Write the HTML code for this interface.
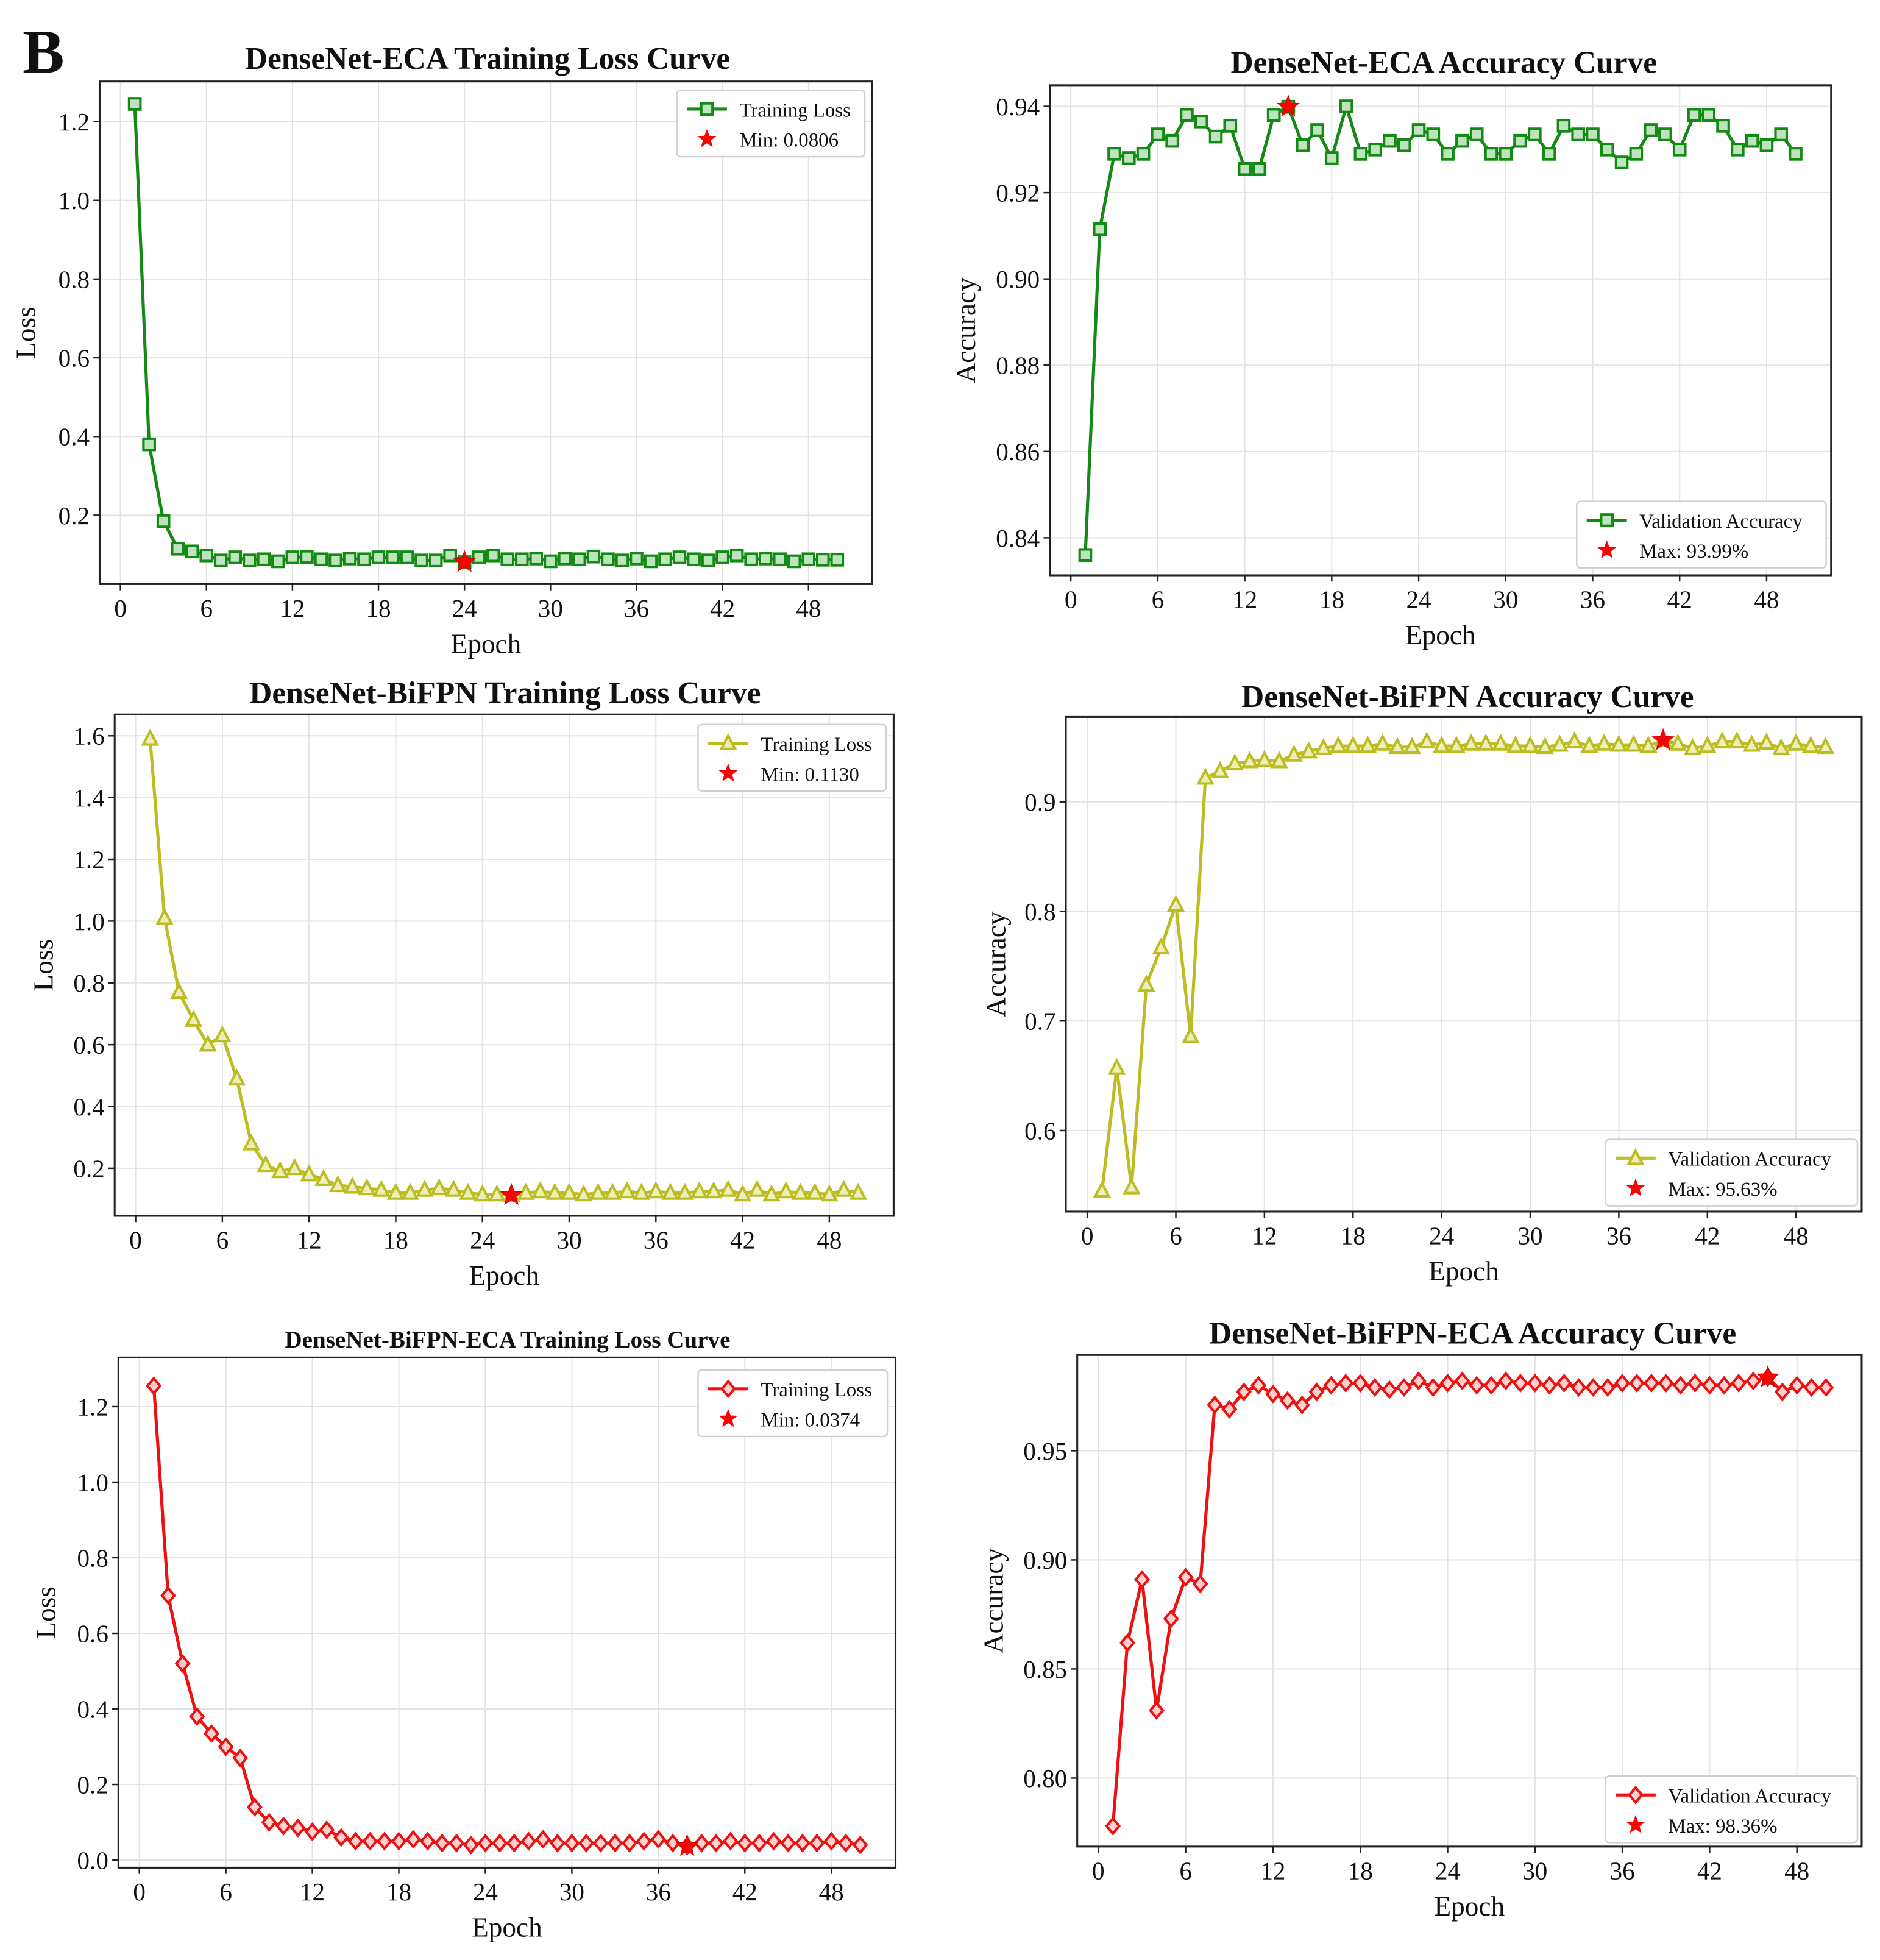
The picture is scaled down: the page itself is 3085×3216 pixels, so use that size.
<!DOCTYPE html>
<html><head><meta charset="utf-8"><style>
html,body{margin:0;padding:0;background:#fff;}
svg{display:block;}
text{font-family:"Liberation Serif",serif;fill:#111;}
</style></head>
<body>
<svg id="fig" xmlns="http://www.w3.org/2000/svg" width="3085" height="3216" viewBox="0 0 1500 1563.7">
<text x="18" y="58" font-size="50" font-weight="bold">B</text>
</svg>
<script>
// ---- data arrays ----
const epochs = Array.from({length:50},(_,i)=>i+1);
const xTicks = [0,6,12,18,24,30,36,42,48];
const ecaLoss = [1.245,0.38,0.185,0.115,0.108,0.098,0.085,0.093,0.085,0.088,0.083,0.093,0.094,0.088,0.085,0.09,0.088,0.093,0.093,0.093,0.085,0.085,0.098,0.0806,0.093,0.098,0.088,0.088,0.09,0.083,0.09,0.088,0.095,0.088,0.085,0.09,0.083,0.088,0.093,0.088,0.085,0.093,0.098,0.088,0.09,0.088,0.083,0.088,0.087,0.087];
const ecaLossBest = 24;
const ecaLossTicks = [0.2,0.4,0.6,0.8,1.0,1.2];
const ecaAcc = [0.836,0.9115,0.929,0.928,0.929,0.9335,0.932,0.938,0.9365,0.933,0.9355,0.9255,0.9255,0.938,0.9399,0.931,0.9345,0.928,0.94,0.929,0.930,0.932,0.931,0.9345,0.9335,0.929,0.932,0.9335,0.929,0.929,0.932,0.9335,0.929,0.9355,0.9335,0.9335,0.930,0.927,0.929,0.9345,0.9335,0.930,0.938,0.938,0.9355,0.930,0.932,0.931,0.9335,0.929];
const ecaAccBest = 15;
const ecaAccTicks = [0.84,0.86,0.88,0.90,0.92,0.94];
const bifLoss = [1.59,1.01,0.77,0.68,0.60,0.63,0.49,0.28,0.21,0.19,0.20,0.18,0.165,0.145,0.14,0.135,0.13,0.12,0.12,0.13,0.135,0.13,0.12,0.115,0.115,0.113,0.12,0.125,0.12,0.12,0.115,0.12,0.12,0.125,0.12,0.125,0.12,0.12,0.125,0.125,0.13,0.115,0.13,0.115,0.125,0.12,0.12,0.115,0.13,0.12];
const bifLossBest = 26;
const bifLossTicks = [0.2,0.4,0.6,0.8,1.0,1.2,1.4,1.6];
const bifAcc = [0.545,0.657,0.548,0.733,0.767,0.806,0.686,0.922,0.928,0.935,0.937,0.938,0.937,0.943,0.946,0.949,0.951,0.951,0.951,0.953,0.95,0.95,0.955,0.951,0.951,0.953,0.953,0.953,0.951,0.951,0.95,0.952,0.955,0.951,0.953,0.952,0.952,0.951,0.9563,0.953,0.949,0.951,0.955,0.955,0.952,0.954,0.949,0.953,0.951,0.95];
const bifAccBest = 39;
const bifAccTicks = [0.6,0.7,0.8,0.9];
const bothLoss = [1.255,0.70,0.52,0.38,0.335,0.30,0.27,0.14,0.10,0.09,0.085,0.075,0.08,0.06,0.05,0.05,0.05,0.05,0.055,0.05,0.045,0.045,0.04,0.045,0.045,0.045,0.05,0.055,0.045,0.045,0.045,0.045,0.045,0.045,0.05,0.055,0.045,0.0374,0.045,0.045,0.05,0.045,0.045,0.05,0.045,0.045,0.045,0.05,0.045,0.04];
const bothLossBest = 38;
const bothLossTicks = [0.0,0.2,0.4,0.6,0.8,1.0,1.2];
const bothAcc = [0.778,0.862,0.891,0.831,0.873,0.892,0.889,0.971,0.969,0.977,0.980,0.976,0.973,0.971,0.977,0.980,0.981,0.981,0.979,0.978,0.979,0.982,0.979,0.981,0.982,0.980,0.980,0.982,0.981,0.981,0.980,0.981,0.979,0.979,0.979,0.981,0.981,0.981,0.981,0.980,0.981,0.980,0.980,0.981,0.982,0.9836,0.977,0.980,0.979,0.979];
const bothAccBest = 46;
const bothAccTicks = [0.80,0.85,0.90,0.95];

const NS="http://www.w3.org/2000/svg";
const svg=document.getElementById('fig');
function mk(tag,attrs,parent){const e=document.createElementNS(NS,tag);for(const k in attrs)e.setAttribute(k,attrs[k]);(parent||svg).appendChild(e);return e;}
function starPts(cx,cy,r){let p=[];for(let i=0;i<10;i++){const a=-Math.PI/2+i*Math.PI/5;const rr=i%2?r*0.42:r;p.push((cx+rr*Math.cos(a)).toFixed(2)+','+(cy+rr*Math.sin(a)).toFixed(2));}return p.join(' ');}
function marker(g,type,x,y,color){
  let m;
  if(type==='square') m=mk('rect',{x:x-4.5,y:y-4.5,width:9,height:9,fill:'#bfe3bf',stroke:color,'stroke-width':2},g);
  else if(type==='tri') m=mk('polygon',{points:`${x},${y-6} ${x-5.5},${y+4.5} ${x+5.5},${y+4.5}`,fill:'#eeeebb',stroke:color,'stroke-width':2},g);
  else m=mk('polygon',{points:`${x},${y-6} ${x+5},${y} ${x},${y+6} ${x-5},${y}`,fill:'#ffd0d0',stroke:color,'stroke-width':2},g);
  return m;
}

function chart(o){
  const g=mk('g',{});
  
  
  const xmin=-1.45,xmax=52.45;
  const X=v=>o.L+(v-xmin)/(xmax-xmin)*(o.R-o.L);
  const Y=v=>o.B-(v-o.ymin)/(o.ymax-o.ymin)*(o.B-o.T);
  o.xticks.forEach(t=>{const l=mk('line',{x1:X(t),x2:X(t),y1:o.T,y2:o.B,stroke:'#e3e3e3','stroke-width':1},g);
    });
  o.yticks.forEach(t=>{const l=mk('line',{x1:o.L,x2:o.R,y1:Y(t),y2:Y(t),stroke:'#e3e3e3','stroke-width':1},g);
    });
  const pts=o.data.map((v,i)=>X(epochs[i]).toFixed(2)+','+Y(v).toFixed(2)).join(' ');
  const pl=mk('polyline',{points:pts,fill:'none',stroke:o.color,'stroke-width':2.5,'stroke-linejoin':'round'},g);
  
  
  o.data.forEach((v,i)=>{const m=marker(g,o.marker,X(epochs[i]),Y(v),o.color);
    
    });
  const bi=o.best-1;
  const st=mk('polygon',{points:starPts(X(epochs[bi]),Y(o.data[bi]),9),fill:'#ff0000',stroke:'#cc0000','stroke-width':0.5},g);
  
  
  const fr=mk('rect',{x:o.L,y:o.T,width:o.R-o.L,height:o.B-o.T,fill:'none',stroke:'#222','stroke-width':1.5},g);
  
  
  o.xticks.forEach(t=>{mk('line',{x1:X(t),x2:X(t),y1:o.B,y2:o.B+5,stroke:'#222','stroke-width':1.2},g);
    const tx=mk('text',{x:X(t),y:o.B+26,'font-size':20,'text-anchor':'middle'},g);tx.textContent=t;
    });
  o.yticks.forEach(t=>{mk('line',{x1:o.L-5,x2:o.L,y1:Y(t),y2:Y(t),stroke:'#222','stroke-width':1.2},g);
    const tx=mk('text',{x:o.L-8,y:Y(t)+7,'font-size':20,'text-anchor':'end'},g);tx.textContent=t.toFixed(o.yd);
    });
  const xl=mk('text',{x:(o.L+o.R)/2,y:o.B+55,'font-size':22,'text-anchor':'middle'},g);xl.textContent='Epoch';
  
  const yx=o.ylx,yy=(o.T+o.B)/2;
  const yl=mk('text',{x:yx,y:yy,'font-size':22,'text-anchor':'middle',transform:`rotate(-90 ${yx} ${yy})`},g);yl.textContent=o.ylabel;
  
  const ti=mk('text',{x:o.tx,y:o.ty,'font-size':o.tfs||25,'font-weight':'bold','text-anchor':'middle'},g);ti.textContent=o.title;
  
  const lg=mk('g',{},g);
  
  
  const [lx,ly,lw]=o.leg;
  mk('rect',{x:lx,y:ly,width:lw,height:53,rx:3,fill:'#fff',stroke:'#d0d0d0','stroke-width':1.2},lg);
  mk('line',{x1:lx+8,x2:lx+40,y1:ly+15,y2:ly+15,stroke:o.color,'stroke-width':2.5},lg);
  marker(lg,o.marker,lx+24,ly+15,o.color);
  const t1=mk('text',{x:lx+50,y:ly+21,'font-size':16},lg);t1.textContent=o.legLabel;
  
  mk('polygon',{points:starPts(lx+24,ly+39,8),fill:'#ff0000'},lg);
  const t2=mk('text',{x:lx+50,y:ly+45,'font-size':16},lg);t2.textContent=o.bestLabel;
  
}

chart({name:'eca-loss-chart',data:ecaLoss,best:ecaLossBest,L:79.5,R:696,T:65,B:466,ymin:0.025,ymax:1.302,xticks:xTicks,yticks:ecaLossTicks,yd:1,color:'#138a13',marker:'square',ylabel:'Loss',ylx:28,title:'DenseNet-ECA Training Loss Curve',tx:389,ty:55,leg:[540,72,150],legLabel:'Training Loss',bestLabel:'Min: 0.0806'});
chart({name:'eca-accuracy-chart',data:ecaAcc,best:ecaAccBest,L:837.6,R:1461,T:68,B:459,ymin:0.8313,ymax:0.9449,xticks:xTicks,yticks:ecaAccTicks,yd:2,color:'#138a13',marker:'square',ylabel:'Accuracy',ylx:778,title:'DenseNet-ECA Accuracy Curve',tx:1152,ty:58,leg:[1258,400,199],legLabel:'Validation Accuracy',bestLabel:'Max: 93.99%'});
chart({name:'bifpn-loss-chart',data:bifLoss,best:bifLossBest,L:91.5,R:713,T:570,B:970,ymin:0.046,ymax:1.669,xticks:xTicks,yticks:bifLossTicks,yd:1,color:'#bcbd22',marker:'tri',ylabel:'Loss',ylx:42,title:'DenseNet-BiFPN Training Loss Curve',tx:403,ty:561,leg:[557,578,150],legLabel:'Training Loss',bestLabel:'Min: 0.1130'});
chart({name:'bifpn-accuracy-chart',data:bifAcc,best:bifAccBest,L:850.4,R:1485.4,T:572,B:966.6,ymin:0.526,ymax:0.9775,xticks:xTicks,yticks:bifAccTicks,yd:1,color:'#bcbd22',marker:'tri',ylabel:'Accuracy',ylx:802,title:'DenseNet-BiFPN Accuracy Curve',tx:1171,ty:564,leg:[1281,909,201],legLabel:'Validation Accuracy',bestLabel:'Max: 95.63%'});
chart({name:'bifpn-eca-loss-chart',data:bothLoss,best:bothLossBest,L:94.5,R:714.5,T:1083,B:1490,ymin:-0.0199,ymax:1.33,xticks:xTicks,yticks:bothLossTicks,yd:1,color:'#ee1111',marker:'diamond',ylabel:'Loss',ylx:44,title:'DenseNet-BiFPN-ECA Training Loss Curve',tx:405,ty:1075,tfs:19,leg:[557,1093,151],legLabel:'Training Loss',bestLabel:'Min: 0.0374'});
chart({name:'bifpn-eca-accuracy-chart',data:bothAcc,best:bothAccBest,L:859.5,R:1485.4,T:1081,B:1473.2,ymin:0.7686,ymax:0.9939,xticks:xTicks,yticks:bothAccTicks,yd:2,color:'#ee1111',marker:'diamond',ylabel:'Accuracy',ylx:800,title:'DenseNet-BiFPN-ECA Accuracy Curve',tx:1175,ty:1072,leg:[1281,1417,201],legLabel:'Validation Accuracy',bestLabel:'Max: 98.36%'});
</script>
</body></html>
